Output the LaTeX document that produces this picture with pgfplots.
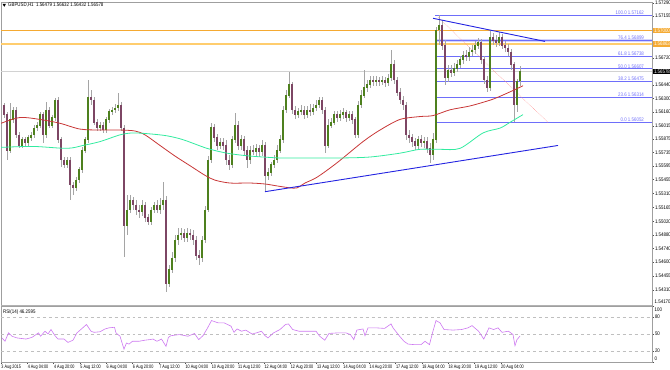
\documentclass[border=0pt]{standalone}
\usepackage{fontspec}
\setmainfont{Liberation Sans}
\newfontfamily\mt[FakeStretch=0.85]{Liberation Sans}
\newfontfamily\mtn[FakeStretch=0.76]{Liberation Sans}
\usepackage{pgfplots}
\pgfplotsset{compat=1.18}
\usepackage{pgfplotstable}

\definecolor{upc}{RGB}{78,128,30}
\definecolor{dnc}{RGB}{125,70,100}
\definecolor{wick}{RGB}{165,165,165}
\definecolor{maR}{RGB}{200,55,55}
\definecolor{maG}{RGB}{50,235,160}
\definecolor{tl}{RGB}{35,35,225}
\definecolor{fib}{RGB}{110,110,250}
\definecolor{org}{RGB}{245,170,50}
\definecolor{orgL}{RGB}{255,205,110}
\definecolor{rsi}{RGB}{205,120,240}

\pgfplotstableread{
o h l c
1.5623 1.5625 1.5610 1.5613
1.5613 1.5616 1.5566 1.5576
1.5576 1.5625 1.5573 1.5608
1.5608 1.5621 1.5604 1.5618
1.5618 1.5621 1.5589 1.5592
1.5592 1.5595 1.5578 1.5581
1.5581 1.5590 1.5578 1.5587
1.5587 1.5590 1.5580 1.5584
1.5584 1.5592 1.5580 1.5589
1.5589 1.5595 1.5586 1.5592
1.5592 1.5602 1.5589 1.5599
1.5599 1.5605 1.5596 1.5602
1.5602 1.5616 1.5599 1.5613
1.5613 1.5616 1.5584 1.5592
1.5592 1.5626 1.5589 1.5618
1.5618 1.5621 1.5599 1.5602
1.5602 1.5613 1.5599 1.5610
1.5610 1.5630 1.5606 1.5628
1.5628 1.5631 1.5584 1.5587
1.5587 1.5590 1.5559 1.5566
1.5566 1.5569 1.5558 1.5561
1.5561 1.5569 1.5558 1.5566
1.5566 1.5569 1.5524 1.5540
1.5540 1.5543 1.5530 1.5537
1.5537 1.5548 1.5534 1.5545
1.5545 1.5559 1.5542 1.5556
1.5556 1.5579 1.5552 1.5576
1.5576 1.5590 1.5573 1.5587
1.5587 1.5649 1.5584 1.5631
1.5631 1.5639 1.5623 1.5628
1.5628 1.5631 1.5602 1.5605
1.5605 1.5608 1.5596 1.5599
1.5599 1.5605 1.5596 1.5602
1.5602 1.5605 1.5594 1.5597
1.5597 1.5611 1.5594 1.5608
1.5608 1.5619 1.5604 1.5616
1.5616 1.5621 1.5613 1.5618
1.5618 1.5624 1.5615 1.5620
1.5620 1.5635 1.5617 1.5623
1.5623 1.5626 1.5596 1.5599
1.5599 1.5602 1.5465 1.5498
1.5498 1.5530 1.5488 1.5514
1.5514 1.5530 1.5511 1.5524
1.5524 1.5528 1.5514 1.5519
1.5519 1.5524 1.5509 1.5514
1.5514 1.5519 1.5506 1.5512
1.5512 1.5524 1.5508 1.5519
1.5519 1.5522 1.5502 1.5506
1.5506 1.5510 1.5498 1.5502
1.5502 1.5517 1.5498 1.5514
1.5514 1.5522 1.5511 1.5519
1.5519 1.5524 1.5511 1.5514
1.5514 1.5526 1.5510 1.5519
1.5519 1.5543 1.5514 1.5524
1.5524 1.5529 1.5429 1.5438
1.5438 1.5457 1.5434 1.5452
1.5452 1.5470 1.5449 1.5464
1.5464 1.5488 1.5460 1.5483
1.5483 1.5495 1.5478 1.5488
1.5488 1.5495 1.5483 1.5490
1.5490 1.5494 1.5481 1.5485
1.5485 1.5495 1.5481 1.5490
1.5490 1.5494 1.5483 1.5488
1.5488 1.5493 1.5478 1.5483
1.5483 1.5487 1.5462 1.5467
1.5467 1.5472 1.5457 1.5464
1.5464 1.5487 1.5460 1.5483
1.5483 1.5518 1.5480 1.5514
1.5514 1.5570 1.5512 1.5566
1.5566 1.5604 1.5563 1.5600
1.5600 1.5603 1.5585 1.5589
1.5589 1.5593 1.5576 1.5581
1.5581 1.5589 1.5577 1.5584
1.5584 1.5589 1.5576 1.5581
1.5581 1.5587 1.5561 1.5566
1.5566 1.5571 1.5556 1.5561
1.5561 1.5591 1.5558 1.5587
1.5587 1.5615 1.5584 1.5602
1.5602 1.5606 1.5576 1.5581
1.5581 1.5592 1.5576 1.5587
1.5587 1.5591 1.5570 1.5576
1.5576 1.5580 1.5558 1.5566
1.5566 1.5580 1.5562 1.5576
1.5576 1.5581 1.5571 1.5574
1.5574 1.5583 1.5570 1.5578
1.5578 1.5581 1.5569 1.5574
1.5574 1.5587 1.5570 1.5581
1.5581 1.5585 1.5533 1.5550
1.5550 1.5558 1.5545 1.5553
1.5553 1.5564 1.5549 1.5561
1.5561 1.5571 1.5558 1.5566
1.5566 1.5581 1.5563 1.5576
1.5576 1.5592 1.5573 1.5587
1.5587 1.5622 1.5584 1.5618
1.5618 1.5639 1.5615 1.5633
1.5633 1.5657 1.5630 1.5644
1.5644 1.5647 1.5614 1.5618
1.5618 1.5622 1.5608 1.5613
1.5613 1.5620 1.5610 1.5616
1.5616 1.5623 1.5613 1.5618
1.5618 1.5622 1.5608 1.5613
1.5613 1.5622 1.5610 1.5618
1.5618 1.5624 1.5612 1.5616
1.5616 1.5624 1.5613 1.5620
1.5620 1.5628 1.5617 1.5623
1.5623 1.5631 1.5620 1.5628
1.5628 1.5631 1.5614 1.5618
1.5618 1.5621 1.5573 1.5581
1.5581 1.5608 1.5578 1.5602
1.5602 1.5610 1.5599 1.5605
1.5605 1.5617 1.5602 1.5613
1.5613 1.5617 1.5605 1.5610
1.5610 1.5618 1.5606 1.5613
1.5613 1.5620 1.5608 1.5615
1.5615 1.5618 1.5605 1.5610
1.5610 1.5617 1.5606 1.5613
1.5613 1.5617 1.5603 1.5608
1.5608 1.5611 1.5589 1.5592
1.5592 1.5627 1.5589 1.5623
1.5623 1.5639 1.5620 1.5633
1.5633 1.5659 1.5630 1.5641
1.5641 1.5649 1.5636 1.5644
1.5644 1.5653 1.5641 1.5649
1.5649 1.5653 1.5643 1.5647
1.5647 1.5653 1.5643 1.5649
1.5649 1.5652 1.5643 1.5647
1.5647 1.5653 1.5644 1.5649
1.5649 1.5652 1.5642 1.5646
1.5646 1.5655 1.5643 1.5651
1.5651 1.5680 1.5648 1.5665
1.5665 1.5670 1.5645 1.5649
1.5649 1.5652 1.5632 1.5636
1.5636 1.5641 1.5624 1.5628
1.5628 1.5632 1.5618 1.5623
1.5623 1.5626 1.5587 1.5592
1.5592 1.5597 1.5584 1.5589
1.5589 1.5593 1.5579 1.5585
1.5585 1.5589 1.5576 1.5581
1.5581 1.5591 1.5577 1.5587
1.5587 1.5592 1.5579 1.5584
1.5584 1.5590 1.5578 1.5585
1.5585 1.5590 1.5573 1.5578
1.5578 1.5584 1.5563 1.5571
1.5571 1.5594 1.5566 1.5587
1.5587 1.5704 1.5584 1.5701
1.5701 1.5716 1.5685 1.5706
1.5706 1.5711 1.5680 1.5685
1.5685 1.5690 1.5644 1.5651
1.5651 1.5665 1.5647 1.5659
1.5659 1.5664 1.5652 1.5657
1.5657 1.5667 1.5653 1.5661
1.5661 1.5670 1.5657 1.5665
1.5665 1.5674 1.5661 1.5670
1.5670 1.5679 1.5666 1.5675
1.5675 1.5680 1.5669 1.5673
1.5673 1.5683 1.5669 1.5678
1.5678 1.5685 1.5674 1.5680
1.5680 1.5689 1.5676 1.5685
1.5685 1.5693 1.5681 1.5688
1.5688 1.5692 1.5666 1.5670
1.5670 1.5674 1.5645 1.5649
1.5649 1.5653 1.5636 1.5641
1.5641 1.5701 1.5638 1.5693
1.5693 1.5698 1.5685 1.5690
1.5690 1.5696 1.5683 1.5688
1.5688 1.5699 1.5684 1.5693
1.5693 1.5697 1.5681 1.5685
1.5685 1.5689 1.5678 1.5682
1.5682 1.5686 1.5674 1.5678
1.5678 1.5681 1.5659 1.5665
1.5665 1.5668 1.5605 1.5623
1.5623 1.5650 1.5616 1.5648
1.5648 1.5663 1.5643 1.5658
}\candles

\newcommand{\lbl}{\mt\fontsize{5.2}{6}\selectfont}
\newcommand{\lbln}{\mtn\fontsize{5.0}{6}\selectfont}

\begin{document}
\begin{tikzpicture}
\useasboundingbox (0bp,0bp) rectangle (670bp,-370bp);

\begin{axis}[
  at={(1bp,-2bp)}, anchor=north west,
  width=651bp, height=303bp, scale only axis,
  xmin=-1, xmax=216, ymin=1.54154, ymax=1.57299,
  axis line style={gray!75},
  xtick=\empty,
  ytick={1.5431,1.54455,1.5460,1.5474,1.5488,1.5502,1.55165,1.5531,1.55455,1.55595,1.55735,1.55875,1.56015,1.5616,1.5630,1.5644,1.5672,1.57155,1.5729},
  yticklabels={1.54310,1.54455,1.54600,1.54740,1.54880,1.55020,1.55165,1.55310,1.55455,1.55595,1.55735,1.55875,1.56015,1.56160,1.56300,1.56440,1.56720,1.57155,1.57290},
  ytick pos=right, yticklabel pos=right,
  tick align=outside, major tick length=2bp,
  tick style={gray!60!black, line width=0.4bp},
  yticklabel style={font=\lbl, anchor=west, inner sep=0.8bp},
  clip mode=individual,
]
% horizontal reference lines
\addplot[org, line width=0.9bp] coordinates {(-1,1.57000) (216,1.57000)};
\addplot[orgL, line width=1.6bp] coordinates {(-1,1.56863) (216,1.56863)};
\addplot[gray!35, line width=0.5bp] coordinates {(-1,1.56578) (216,1.56578)};
% Fibonacci levels
\addplot[fib!30, line width=2.8bp] coordinates {(143.7,1.56899) (216,1.56899)};
\addplot[fib, line width=0.5bp] coordinates {(143.7,1.57162) (216,1.57162)};
\addplot[fib, line width=0.5bp] coordinates {(143.7,1.56899) (216,1.56899)};
\addplot[fib, line width=0.5bp] coordinates {(143.7,1.56738) (216,1.56738)};
\addplot[fib, line width=0.5bp] coordinates {(143.7,1.56607) (216,1.56607)};
\addplot[fib, line width=0.5bp] coordinates {(143.7,1.56475) (216,1.56475)};
\addplot[fib, line width=0.5bp] coordinates {(143.7,1.56314) (216,1.56314)};
\addplot[fib, line width=0.5bp] coordinates {(143.7,1.56052) (216,1.56052)};
\addplot[red!45, line width=0.5bp, densely dotted] coordinates {(144.7,1.5714) (181.3,1.5605)};

% candles: wicks
\addplot[draw=none, mark=none, forget plot,
  error bars/.cd, y dir=both, y explicit, error mark=none,
  error bar style={draw=wick, line width=0.7bp}]
  table[x expr=\coordindex, y expr={0.5*(\thisrow{h}+\thisrow{l})}, y error expr={0.5*(\thisrow{h}-\thisrow{l})}] {\candles};
% candles: up bodies
\addplot[draw=none, mark=none, forget plot,
  error bars/.cd, y dir=both, y explicit, error mark=none,
  error bar style={draw=upc, line width=1.6bp}]
  table[x expr=\coordindex, y expr={\thisrow{c}>=\thisrow{o} ? 0.5*(\thisrow{o}+\thisrow{c}) : nan}, y error expr={abs(\thisrow{c}-\thisrow{o})/2+0.00003}] {\candles};
% candles: down bodies
\addplot[draw=none, mark=none, forget plot,
  error bars/.cd, y dir=both, y explicit, error mark=none,
  error bar style={draw=dnc, line width=1.6bp}]
  table[x expr=\coordindex, y expr={\thisrow{c}<\thisrow{o} ? 0.5*(\thisrow{o}+\thisrow{c}) : nan}, y error expr={abs(\thisrow{c}-\thisrow{o})/2+0.00003}] {\candles};

% moving averages
\addplot[maR, line width=0.8bp, smooth] coordinates {
(-1,1.5604) (5.33,1.5610) (12,1.5608) (18.67,1.5604) (25.33,1.5598) (32,1.5597)
(38.67,1.5597) (43.67,1.5596) (47,1.5592) (52,1.5581) (57,1.5570) (62,1.5560)
(67,1.5550) (70.33,1.5545) (75.33,1.5542) (82,1.5542) (87,1.5541) (91,1.5539)
(95.33,1.5537) (97.67,1.5537) (100.33,1.5542) (104.33,1.5548) (111,1.5563)
(119.67,1.5585) (125.33,1.5597) (132,1.5608) (138.67,1.5611) (143,1.5612)
(148.67,1.5618) (155.33,1.5622) (162,1.5628) (165.33,1.5632) (170.33,1.5639) (173,1.5643)};
\addplot[maG, line width=0.8bp, smooth] coordinates {
(-1,1.5579) (9.67,1.5580) (21,1.5578) (26.33,1.5581) (32,1.5585) (38.67,1.5592)
(43,1.5594) (48.67,1.5593) (54.33,1.5591) (59.67,1.5587) (67.67,1.5578)
(74.33,1.5573) (82,1.5570) (92,1.5568) (98.67,1.5568) (112,1.5568) (122,1.5569)
(132,1.5573) (138.67,1.5577) (145.33,1.5577) (152,1.5578) (159.67,1.5594)
(165.33,1.5599) (168.67,1.5605) (173,1.5613)};

% trend lines
\addplot[tl, line width=0.9bp] coordinates {(87,1.5533) (184.67,1.5581)};
\addplot[tl, line width=0.9bp] coordinates {(143,1.5713) (180.33,1.5689)};

% fib labels
\node[anchor=south east, text=fib, font=\lbl, inner sep=0.4bp] at (axis cs:213.5,1.57162) {100.0 1.57162};
\node[anchor=south east, text=fib, font=\lbl, inner sep=0.4bp] at (axis cs:213.5,1.56899) {76.4 1.56899};
\node[anchor=south east, text=fib, font=\lbl, inner sep=0.4bp] at (axis cs:213.5,1.56738) {61.8 1.56738};
\node[anchor=south east, text=fib, font=\lbl, inner sep=0.4bp] at (axis cs:213.5,1.56607) {50.0 1.56607};
\node[anchor=south east, text=fib, font=\lbl, inner sep=0.4bp] at (axis cs:213.5,1.56475) {38.2 1.56475};
\node[anchor=south east, text=fib, font=\lbl, inner sep=0.4bp] at (axis cs:213.5,1.56314) {23.6 1.56314};
\node[anchor=south east, text=fib, font=\lbl, inner sep=0.4bp] at (axis cs:213.5,1.56052) {0.0 1.56052};

% boxed price labels on the scale
\node[anchor=west, fill=org, text=white, font=\lbl, inner sep=0.8bp, xshift=1bp] at (axis cs:216,1.57000) {1.57000};
\node[anchor=west, fill=org, text=white, font=\lbl, inner sep=0.8bp, xshift=1bp] at (axis cs:216,1.56863) {1.56863};
\node[anchor=west, fill=black, text=white, font=\lbl, inner sep=0.8bp, xshift=1bp] at (axis cs:216,1.56578) {1.56578};
\node[anchor=south west, font=\lbl, inner sep=0.5bp, xshift=2bp, yshift=1.2bp] at (axis cs:216,1.54154) {1.54170};
\end{axis}

% panel separator
\draw[gray!60, line width=2bp] (1bp,-305.5bp) -- (652bp,-305.5bp);

% header
\fill (2.5bp,-3.8bp) -- (6bp,-3.8bp) -- (4.25bp,-6.8bp) -- cycle;
\node[anchor=west, font=\lbl, inner sep=0] at (8bp,-5.3bp) {GBPUSD,H1\ \ 1.56479 1.56632 1.56432 1.56578};

\begin{axis}[
  at={(1bp,-306bp)}, anchor=north west,
  width=651bp, height=56bp, scale only axis,
  xmin=-1, xmax=216, ymin=0, ymax=100,
  axis line style={gray!75},
  ytick={0,20,50,80,100}, yticklabels={,20,50,80,},
  ytick pos=right, yticklabel pos=right,
  xtick={-1,7.77,16.53,25.3,34.07,42.83,51.6,60.37,69.13,77.9,86.67,95.43,104.2,112.97,121.73,130.5,139.27,148.03,156.8,165.57},
  xticklabels={3 Aug 2015,4 Aug 04:00,4 Aug 20:00,5 Aug 12:00,6 Aug 04:00,6 Aug 20:00,7 Aug 12:00,10 Aug 04:00,10 Aug 20:00,11 Aug 12:00,12 Aug 04:00,12 Aug 20:00,13 Aug 12:00,14 Aug 04:00,14 Aug 20:00,17 Aug 12:00,18 Aug 04:00,18 Aug 20:00,19 Aug 12:00,20 Aug 04:00},
  xtick pos=bottom,
  tick align=outside, major tick length=2bp,
  tick style={gray!60!black, line width=0.4bp},
  yticklabel style={font=\lbl, anchor=west, inner sep=0.8bp},
  xticklabel style={font=\lbln, anchor=north west, inner sep=0.8bp, xshift=-0.5bp},
  clip mode=individual,
]
\addplot[gray!50, line width=0.4bp, dashed] coordinates {(-1,80) (216,80)};
\addplot[gray!50, line width=0.4bp, dashed] coordinates {(-1,50) (216,50)};
\addplot[gray!50, line width=0.4bp, dashed] coordinates {(-1,20) (216,20)};
\addplot[rsi, line width=0.6bp] coordinates {
(-0.67,43) (0.33,37) (1.5,52) (2.67,46) (4.33,43) (7.33,41) (9.33,44) (11.5,52)
(12.2,46) (13.67,55) (14.67,50) (15.67,58) (17,47) (18,41) (20,41) (21.33,35)
(23,39) (24.33,52) (27.5,67) (29,55) (30,53) (32,54) (33.67,59) (35,61)
(36.83,62) (37.33,52) (38.67,46) (40,23) (40.83,34) (41.67,32) (42.83,37)
(45,37) (47,39) (48.67,40) (49.67,41) (51,37) (52.5,41) (54,28) (54.8,44)
(55.67,47) (58.5,49) (61.33,46) (63.5,51) (64.9,40) (66.33,47) (67.67,59)
(69.17,74) (71.33,70) (73.33,70) (75.67,64) (76.67,53) (77.67,59) (79.17,55)
(80.57,57) (82.67,50) (84.13,52) (85.83,55) (87,47) (88,43) (89.83,52) (92,58)
(93.83,67) (94.83,68) (96.23,58) (98.33,55) (101.23,55) (104,55) (105.23,46)
(106.93,39) (108.33,51) (111.2,52) (114,52) (115.47,49) (116.6,40) (117.6,57)
(119.67,59) (120.33,47) (121.33,61) (124,61) (126.87,60) (129,68) (129.67,61)
(131.87,46) (133.33,37) (134.67,32) (136.83,31) (139,31) (140.33,37) (141.83,31)
(142.83,52) (144,74) (145.33,70) (146.67,58) (149.67,57) (152.5,58) (154.67,61)
(156,65) (158.2,55) (159.93,41) (161.67,61) (163.2,58) (164.67,61) (166,53)
(168.17,55) (169.67,49) (170.33,29) (171,40) (172,46.26)};
\node[anchor=north west, font=\lbl, inner sep=0] at (rel axis cs:0.003,0.93) {RSI(14) 46.2595};
\node[anchor=north west, font=\lbl, inner sep=0.5bp, xshift=2bp, yshift=-0.8bp] at (rel axis cs:1,1) {100};
\node[anchor=south west, font=\lbl, inner sep=0.5bp, xshift=2bp, yshift=0.3bp] at (rel axis cs:1,0) {0};
\end{axis}
\end{tikzpicture}
\end{document}
